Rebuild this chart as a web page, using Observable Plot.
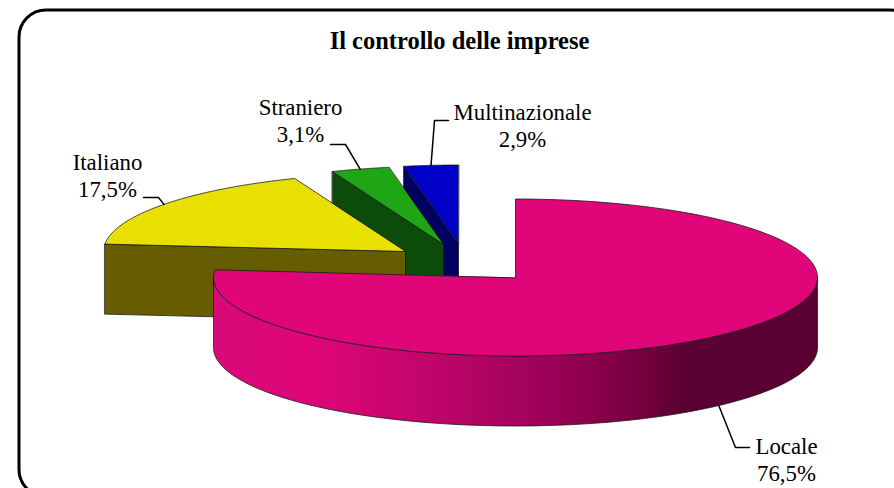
<!DOCTYPE html>
<html>
<head>
<meta charset="utf-8">
<style>html,body{margin:0;padding:0;background:#fff}svg{display:block}</style>
<script src="https://cdn.jsdelivr.net/npm/d3@7"></script>
<script src="https://cdn.jsdelivr.net/npm/@observablehq/plot@0.6"></script>
</head>
<body>
<div id="chart"></div>
<script>
const title = "Il controllo delle imprese";
const categories = ["Multinazionale", "Straniero", "Italiano", "Locale"];
const shares = [2.9, 3.1, 17.5, 76.5];
const topColors = ["#0000c8", "#1ea614", "#e8e000", "#e0067a"];
const wallColors = ["#000060", "#0b4c0b", "#665d00", "url(#localeSide)"];
// Exploded pie centres and label placement, in chart units
const centreX = [458, 443, 405, 515];
const centreY = [243, 244, 251, 277];
const elbowX = [434, 345, 158, 735];
const elbowY = [120, 144, 197, 447];
const stubX = [448, 330, 143, 749];
const labelX = [522, 300, 107, 786];
const labelY = [113, 108, 163, 447];
const rx = 302, ry = 78.5, depth = 70;

// Angles run clockwise from 12 o'clock, Locale first
const order = [3, 2, 1, 0];
const start = [], end = [];
let acc = 0;
for (const i of order) { start[i] = acc; acc += shares[i] * 3.6; end[i] = acc; }

const rim = (i, deg, dy = 0) => {
  const t = deg * Math.PI / 180;
  return {x: centreX[i] + rx * Math.sin(t), y: centreY[i] - ry * Math.cos(t) + dy};
};
const arc = (i, a, b, dy = 0) => d3.range(0, 121).map(k => rim(i, a + (b - a) * k / 120, dy));
const centre = (i, dy = 0) => ({x: centreX[i], y: centreY[i] + dy});
const outline = {stroke: "#1a1a1a", strokeWidth: 0.8};
const closed = (pts, fill) => Plot.line(pts, {x: "x", y: "y", fill, curve: "linear-closed", ...outline});

const gradient = () => {
  const defs = d3.create("svg:defs");
  const g = defs.append("linearGradient").attr("id", "localeSide");
  [[0, "#d80a78"], [0.15, "#e0067a"], [0.36, "#c0056b"], [0.53, "#a0025a"], [0.695, "#7a0042"], [0.78, "#5a0032"], [1, "#5a0032"]]
    .forEach(([o, c]) => g.append("stop").attr("offset", o).attr("stop-color", c));
  return defs.node();
};

const sliceMarks = i => {
  const m = [];
  const a = start[i], b = end[i];
  if (i !== 3) {
    // radial wall on the leading edge, extruded downward
    const r = rim(i, a);
    m.push(closed([r, centre(i), centre(i, depth), rim(i, a, depth)], wallColors[i]));
  } else {
    // curved outer wall of the big slice
    const top = arc(i, 90, 270);
    const bot = arc(i, 90, 270, depth);
    m.push(closed([...top, ...bot.reverse()], wallColors[i]));
  }
  m.push(closed([centre(i), ...arc(i, a, b)], topColors[i]));
  return m;
};

// Leader lines start on the rim at each slice's mid-angle
const leaders = categories.map((_, i) => {
  const mid = (start[i] + end[i]) / 2;
  const front = mid > 90 && mid < 270;
  return [rim(i, mid, front ? depth : 0), {x: elbowX[i], y: elbowY[i]}, {x: stubX[i], y: elbowY[i]}];
});

const labels = categories.map((c, i) => ({
  x: labelX[i], y: labelY[i],
  text: `${c}\n${String(shares[i]).replace(".", ",")}%`
}));

const chart = Plot.plot({
  width: 894, height: 488,
  marginTop: 0, marginRight: 0, marginBottom: 0, marginLeft: 0,
  x: {domain: [0, 894], range: [0, 894], axis: null},
  y: {domain: [0, 488], range: [0, 488], axis: null},
  style: {background: "#fff", fontFamily: "'Liberation Serif', serif"},
  marks: [
    gradient,
    Plot.frame({stroke: "#000", strokeWidth: 3, rx: 27, insetLeft: 18.5, insetTop: 9.5, insetRight: -22, insetBottom: -8}),
    ...[0, 1, 2, 3].flatMap(sliceMarks),
    ...leaders.map(pts => Plot.line(pts, {x: "x", y: "y", stroke: "#000", strokeWidth: 1.5})),
    Plot.text(labels, {x: "x", y: "y", text: "text", fontSize: 22.8, lineHeight: 1.184, lineAnchor: "top", fill: "#000", dy: -13}),
    Plot.text([title], {x: () => 459, y: () => 41, text: d => d, fontSize: 24.5, fontWeight: "bold", fill: "#000"})
  ]
});
document.getElementById("chart").append(chart);
</script>
</body>
</html>
